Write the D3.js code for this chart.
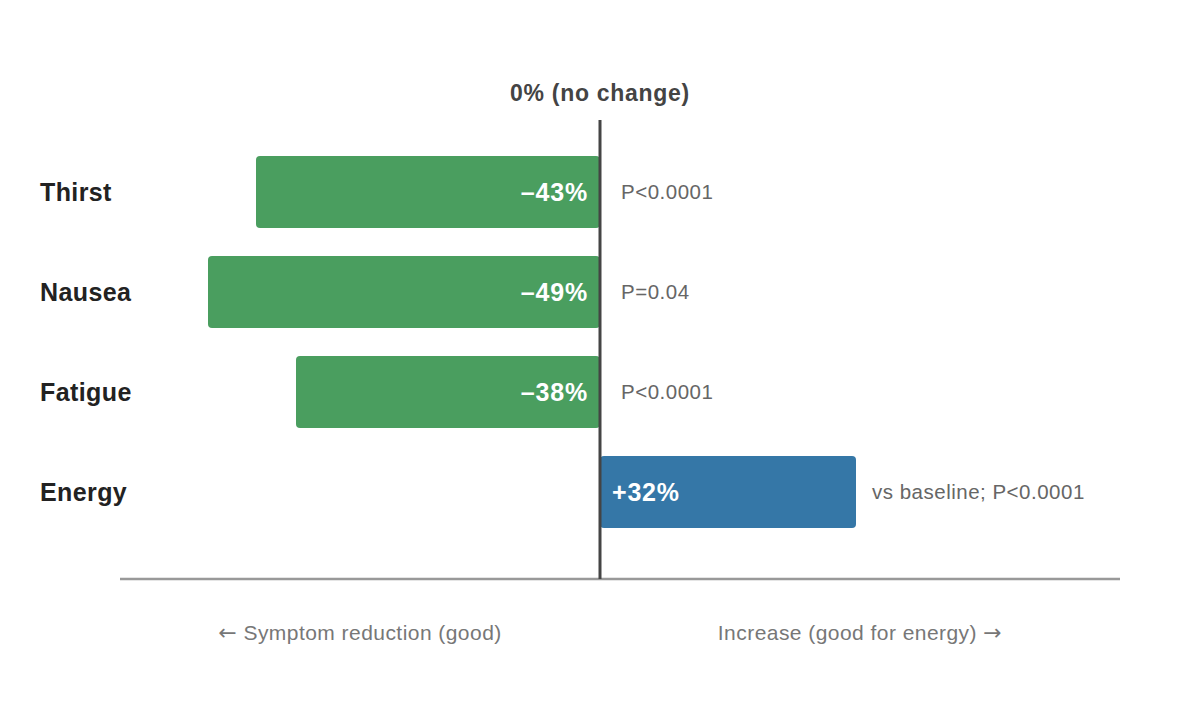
<!DOCTYPE html>
<html><head><meta charset="utf-8">
<script src="https://cdn.jsdelivr.net/npm/d3@7"></script>
<style>
body{margin:0;background:#fff;font-family:"Liberation Sans",Arial,Helvetica,sans-serif;}
</style></head>
<body><svg id="c" width="1200" height="720"></svg>
<script>
const categories = ["Thirst","Nausea","Fatigue","Energy"];
const values = [-43,-49,-38,32];
const valueLabels = ["\u201343%","\u201349%","\u201338%","+32%"];
const pLabels = ["P<0.0001","P=0.04","P<0.0001","vs baseline; P<0.0001"];
const domain = [-60,65];

const svg = d3.select("#c");
const x = d3.scaleLinear().domain(domain).range([120,1120]);
const y = d3.scaleBand().domain(categories).range([142,542]).paddingInner(0.28).paddingOuter(0.14);

const rows = categories.map((c,i)=>({c,v:values[i],vl:valueLabels[i],p:pLabels[i]}));

svg.selectAll("rect.bar").data(rows).join("rect")
  .attr("class","bar")
  .attr("x",d=>x(Math.min(0,d.v)))
  .attr("width",d=>Math.abs(x(d.v)-x(0)))
  .attr("y",d=>y(d.c))
  .attr("height",y.bandwidth())
  .attr("rx",4)
  .attr("fill",d=>d.v<0?"#4a9e5f":"#3577a7");

svg.selectAll("text.cat").data(rows).join("text")
  .attr("x",40).attr("y",d=>y(d.c)+y.bandwidth()/2)
  .attr("dy","0.36em")
  .attr("font-size",25).attr("font-weight","bold").attr("fill","#222")
  .attr("letter-spacing",0.4)
  .text(d=>d.c);

svg.selectAll("text.val").data(rows).join("text")
  .attr("x",d=>d.v<0?x(0)-12:x(0)+12)
  .attr("y",d=>y(d.c)+y.bandwidth()/2)
  .attr("dy","0.36em")
  .attr("text-anchor",d=>d.v<0?"end":"start")
  .attr("font-size",25).attr("font-weight","bold").attr("fill","#fff")
  .attr("letter-spacing",0.8)
  .text(d=>d.vl);

svg.selectAll("text.p").data(rows).join("text")
  .attr("x",d=>d.v<0?x(0)+21:x(d.v)+16)
  .attr("y",d=>y(d.c)+y.bandwidth()/2)
  .attr("dy","0.36em")
  .attr("font-size",20.5).attr("fill","#666")
  .attr("letter-spacing",0.5)
  .text(d=>d.p);

// baseline
svg.append("line").attr("x1",x(domain[0])).attr("x2",x(domain[1]))
  .attr("y1",579).attr("y2",579).attr("stroke","#999").attr("stroke-width",2.5);
// zero line
svg.append("line").attr("x1",x(0)).attr("x2",x(0))
  .attr("y1",120).attr("y2",579).attr("stroke","#444").attr("stroke-width",3);

svg.append("text").attr("x",x(0)).attr("y",101).attr("text-anchor","middle")
  .attr("font-size",23).attr("font-weight","bold").attr("fill","#444")
  .attr("letter-spacing",0.7)
  .text("0% (no change)");

const b1 = svg.append("text").attr("x",(x(domain[0])+x(0))/2).attr("y",640).attr("text-anchor","middle")
  .attr("font-size",21).attr("fill","#777").attr("letter-spacing",0.45);
b1.append("tspan").attr("font-family","DejaVu Sans").attr("font-size",22).text("\u2190");
b1.append("tspan").text(" Symptom reduction (good)");
const b2 = svg.append("text").attr("x",(x(0)+x(domain[1]))/2).attr("y",640).attr("text-anchor","middle")
  .attr("font-size",21).attr("fill","#777").attr("letter-spacing",0.45);
b2.append("tspan").text("Increase (good for energy) ");
b2.append("tspan").attr("font-family","DejaVu Sans").attr("font-size",22).text("\u2192");
</script></body></html>
